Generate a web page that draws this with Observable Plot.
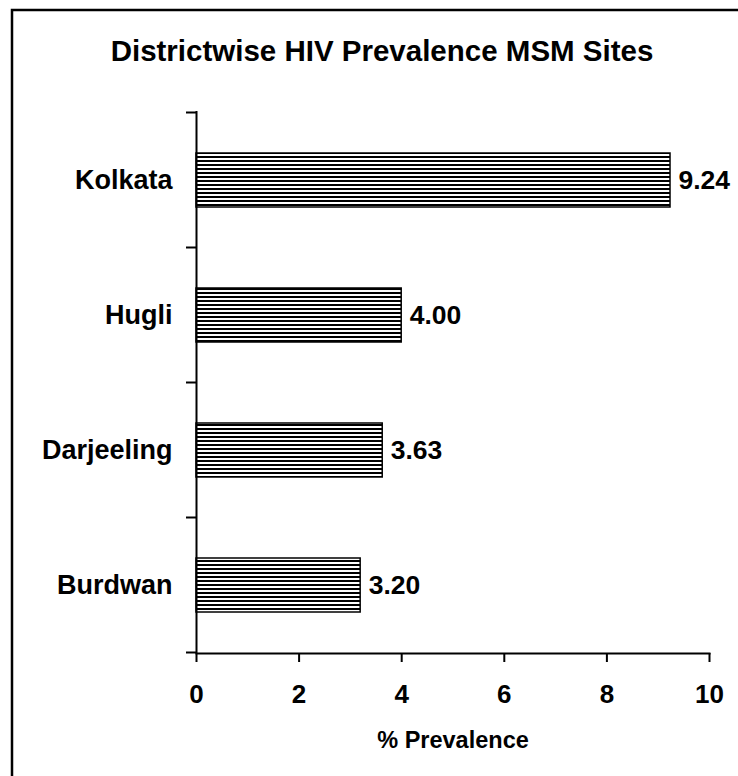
<!DOCTYPE html>
<html>
<head>
<meta charset="utf-8">
<script src="https://cdn.jsdelivr.net/npm/d3@7"></script>
<script src="https://cdn.jsdelivr.net/npm/@observablehq/plot@0.6"></script>
<style>
  html, body { margin: 0; padding: 0; background: #fff; }
  svg { display: block; }
</style>
</head>
<body>
<div id="chart"></div>
<script>
const districts = ["Kolkata", "Hugli", "Darjeeling", "Burdwan"];
const prevalence = [9.24, 4.00, 3.63, 3.20];
const xTicks = [0, 2, 4, 6, 8, 10];
const title = "Districtwise HIV Prevalence MSM Sites";
const xLabel = "% Prevalence";

const data = districts.map((d, i) => ({district: d, value: prevalence[i]}));
const font = "'Liberation Sans', Arial, sans-serif";

const plot = Plot.plot({
  width: 738,
  height: 776,
  marginLeft: 196,
  marginRight: 29,
  marginTop: 111,
  marginBottom: 123,
  style: {fontFamily: font, fontWeight: "bold", color: "#000", background: "#fff"},
  x: {domain: [0, 10]},
  y: {domain: districts, paddingInner: 0.6, paddingOuter: 0.3, align: 0.5},
  marks: [
    Plot.barX(data, {x: "value", y: "district", fill: "url(#stripes)", stroke: "#000", strokeWidth: 1.5}),
    Plot.text(data, {x: "value", y: "district", text: d => d.value.toFixed(2), textAnchor: "start", dx: 8, fontSize: 26.5, fontWeight: "bold", fill: "#000"}),
    Plot.ruleX([0], {stroke: "#000", strokeWidth: 2}),
    Plot.frame({anchor: "bottom", stroke: "#000", strokeWidth: 2}),
    Plot.axisX({ticks: xTicks, tickSize: 9, tickPadding: 22, fontSize: 26, fontWeight: "bold", label: null, strokeWidth: 2, tickFormat: d => d}),
    Plot.axisY({tickSize: 0, tickPadding: 24, fontSize: 27, fontWeight: "bold", label: null}),
    Plot.text([xLabel], {frameAnchor: "bottom", lineAnchor: "middle", dy: 87, fontSize: 23.5, fontWeight: "bold", fill: "#000"})
  ]
});

const svg = d3.select(plot);
const defs = svg.insert("defs", ":first-child");
const pat = defs.append("pattern").attr("id", "stripes")
  .attr("patternUnits", "userSpaceOnUse").attr("width", 4).attr("height", 4);
pat.append("rect").attr("width", 4).attr("height", 4).attr("fill", "#fff");
pat.append("rect").attr("y", 0).attr("width", 4).attr("height", 2).attr("fill", "#000");

// y-axis ticks at category boundaries
const ys = plot.scale("y");
const xs = plot.scale("x");
const x0 = xs.apply(0);
const gap = ys.step - ys.bandwidth;
const bounds = districts.map(d => ys.apply(d) - gap / 2);
bounds.push(ys.apply(districts[districts.length - 1]) + ys.bandwidth + gap / 2);
svg.append("g").selectAll("line").data(bounds).join("line")
  .attr("x1", x0 - 10).attr("x2", x0).attr("y1", d => d).attr("y2", d => d)
  .attr("stroke", "#000").attr("stroke-width", 2);

// title
svg.append("text").attr("x", 382).attr("y", 61).attr("text-anchor", "middle")
  .style("font-family", font).style("font-weight", "bold").style("font-size", "29.5px")
  .text(title);

// outer border
svg.append("rect").attr("x", 12).attr("y", 10).attr("width", 760).attr("height", 800)
  .attr("fill", "none").attr("stroke", "#000").attr("stroke-width", 2.5);

document.getElementById("chart").appendChild(plot);
</script>
</body>
</html>
